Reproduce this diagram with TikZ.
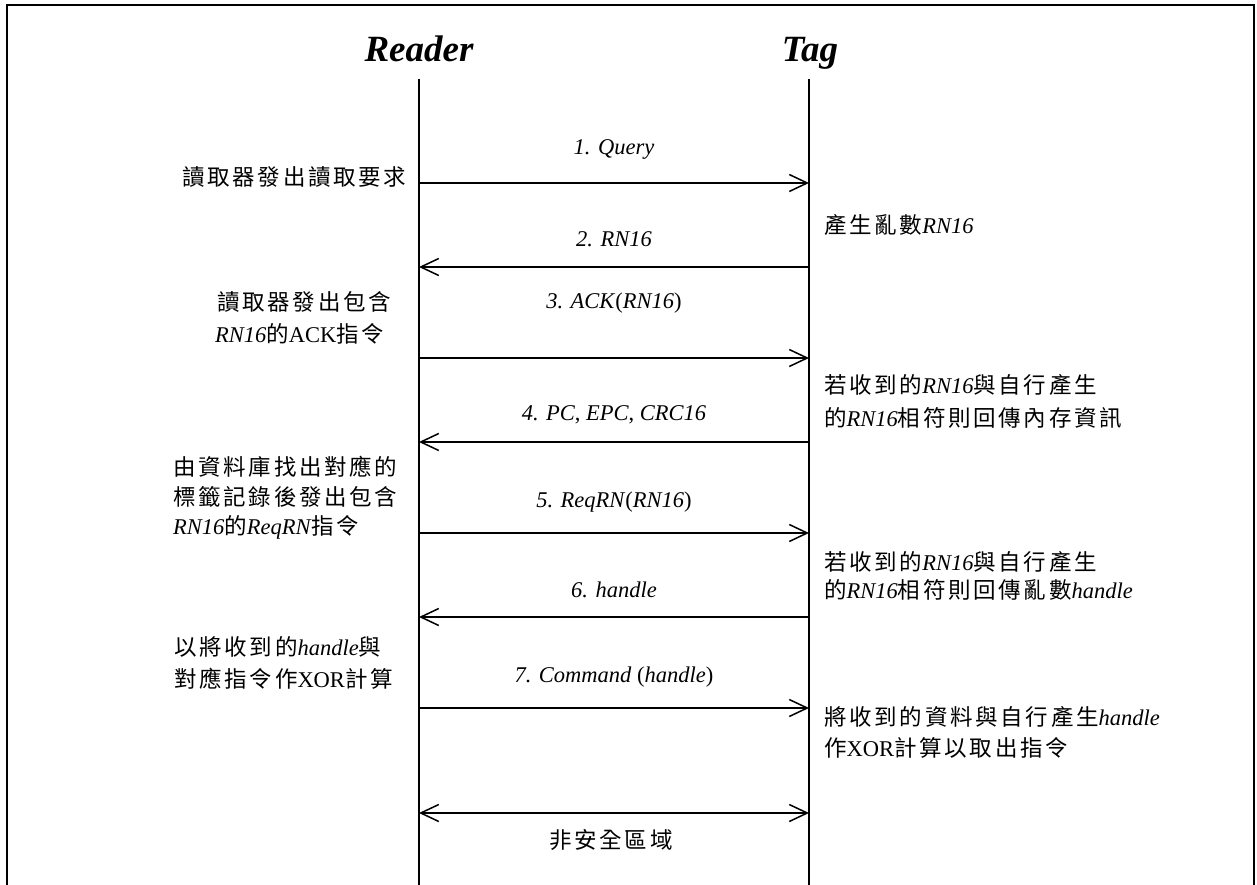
\documentclass[tikz,border=0pt]{standalone}
\usepackage{fontspec}
\setmainfont{Liberation Serif}
\newfontfamily\cjkfont[LetterSpace=12]{Noto Sans CJK TC}
\newcommand\zhtxt[1]{{\cjkfont #1}}
\usetikzlibrary{arrows.meta}

\begin{document}
\begin{tikzpicture}[x=1pt, y=-1pt,
  frameline/.style={line width=2.2pt},
  lifeline/.style={line width=1.6pt},
  msg/.style={line width=1.6pt, -{Straight Barb[length=18pt,width=17pt,line width=1.5pt]}},
  both/.style={line width=1.6pt, {Straight Barb[length=18pt,width=17pt,line width=1.5pt]}-{Straight Barb[length=18pt,width=17pt,line width=1.5pt]}},
  actor/.style={inner sep=0pt, anchor=base, font=\fontsize{37}{42}\selectfont\bfseries\itshape},
  msglabel/.style={inner sep=0pt, anchor=base, font=\fontsize{22.5}{30}\selectfont},
  note/.style={inner sep=0pt, anchor=base west, font=\fontsize{22.5}{30}\selectfont}]

\useasboundingbox (0,0) rectangle (1257,885);

% outer frame, open at the bottom
\draw[frameline] (7,885) -- (7,5) -- (1254,5) -- (1254,885);

% actors and lifelines
\node[actor] (reader) at (419,62) {Reader};
\node[actor] (tag) at (810,62) {Tag};
\coordinate (rtop) at (419,79);
\coordinate (rbot) at (419,885);
\coordinate (ttop) at (809,79);
\coordinate (tbot) at (809,885);
\draw[lifeline] (rtop) -- (rbot);
\draw[lifeline] (ttop) -- (tbot);

% message end points on the lifelines
\foreach \i/\y in {1/183, 2/267, 3/358, 4/442, 5/533, 6/617, 7/708, 8/813}{
  \coordinate (r\i) at (419,\y);
  \coordinate (t\i) at (809,\y);
}

% messages
\draw[msg] (r1) -- (t1);
\draw[msg] (t2) -- (r2);
\draw[msg] (r3) -- (t3);
\draw[msg] (t4) -- (r4);
\draw[msg] (r5) -- (t5);
\draw[msg] (t6) -- (r6);
\draw[msg] (r7) -- (t7);
\draw[both] (r8) -- (t8);

% message labels
\node[msglabel] (m1) at (614,155) {\textit{1. Query}};
\node[msglabel] (m2) at (614,247) {\textit{2. RN16}};
\node[msglabel] (m3) at (614,308) {\textit{3. ACK}(\textit{RN16})};
\node[msglabel] (m4) at (614,420) {\textit{4. PC}, \textit{EPC}, \textit{CRC16}};
\node[msglabel] (m5) at (614,507) {\textit{5. ReqRN}(\textit{RN16})};
\node[msglabel] (m6) at (614,597) {\textit{6. handle}};
\node[msglabel] (m7) at (614,682) {\textit{7. Command} (\textit{handle})};
\node[msglabel] (m8) at (611,848) {\zhtxt{非安全區域}};

% reader side notes
\node[note] (a1) at (182,186) {\zhtxt{讀取器發出讀取要求}};
\node[note] (a2) at (217,310) {\zhtxt{讀取器發出包含}};
\node[note] (a3) at (215,342) {\textit{RN16}\zhtxt{的}ACK\zhtxt{指令}};
\node[note] (a4) at (173,475) {\zhtxt{由資料庫找出對應的}};
\node[note] (a5) at (173,505) {\zhtxt{標籤記錄後發出包含}};
\node[note] (a6) at (173,534) {\textit{RN16}\zhtxt{的}\textit{ReqRN}\zhtxt{指令}};
\node[note] (a7) at (174,655) {\zhtxt{以將收到的}\textit{handle}\zhtxt{與}};
\node[note] (a8) at (174,687) {\zhtxt{對應指令作}XOR\zhtxt{計算}};

% tag side notes
\node[note] (b1) at (824,234) {\zhtxt{產生亂數}\textit{RN16}};
\node[note] (b2) at (824,393) {\zhtxt{若收到的}\textit{RN16}\zhtxt{與自行產生}};
\node[note] (b3) at (824,426) {\zhtxt{的}\textit{RN16}\zhtxt{相符則回傳內存資訊}};
\node[note] (b4) at (824,570) {\zhtxt{若收到的}\textit{RN16}\zhtxt{與自行產生}};
\node[note] (b5) at (824,598) {\zhtxt{的}\textit{RN16}\zhtxt{相符則回傳亂數}\textit{handle}};
\node[note] (b6) at (824,725) {\zhtxt{將收到的資料與自行產生}\textit{handle}};
\node[note] (b7) at (824,756) {\zhtxt{作}XOR\zhtxt{計算以取出指令}};

\end{tikzpicture}
\end{document}
